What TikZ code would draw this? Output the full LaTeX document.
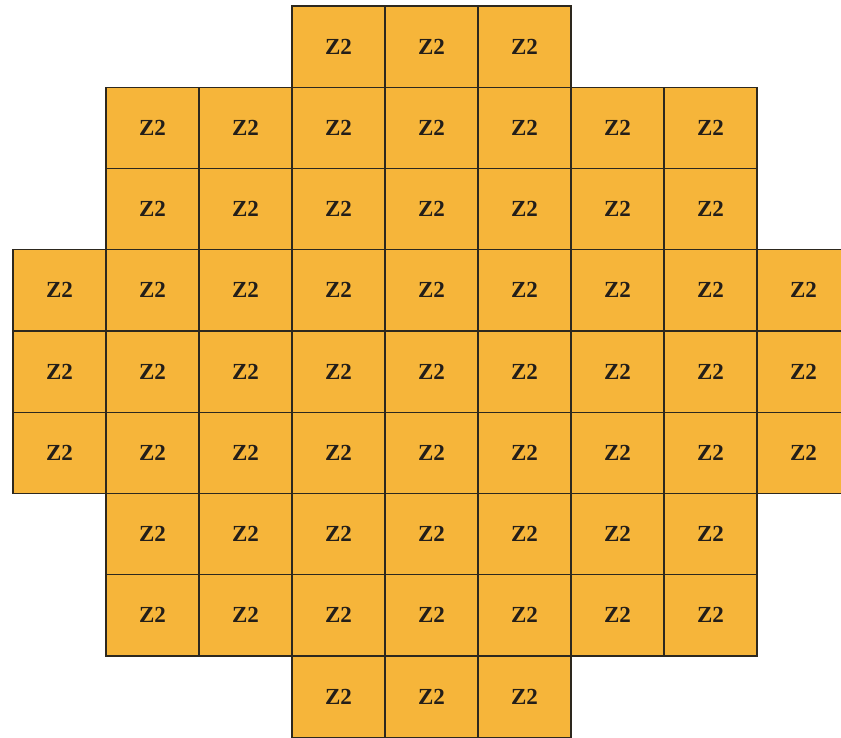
\documentclass[tikz,border=0pt]{standalone}
\usepackage{fontspec}
\setmainfont{Liberation Serif}
\definecolor{zonefill}{RGB}{246,181,58}
\definecolor{zoneline}{RGB}{45,40,30}
\definecolor{zonetext}{RGB}{35,30,25}

\begin{document}
\begin{tikzpicture}[
  x=1pt,
  y=-1pt,
  cell/.style={
    rectangle,
    draw=zoneline,
    line width=1.3pt,
    fill=zonefill,
    minimum width=93pt,
    minimum height=81.25pt,
    inner sep=0pt,
    text=zonetext,
    font=\fontsize{23}{23}\selectfont\bfseries
  }
]
  \useasboundingbox (0,0) rectangle (841,737);
  \clip (0,0) rectangle (841,737);
  % row / first column / last column
  \foreach \r/\first/\last in {0/3/5,1/1/7,2/1/7,3/0/8,4/0/8,5/0/8,6/1/7,7/1/7,8/3/5}
    \foreach \c in {\first,...,\last}
      \node[cell] (zone-\r-\c) at ({59.5+93*\c},{46.6+81.25*\r}) {Z2};
\end{tikzpicture}
\end{document}
